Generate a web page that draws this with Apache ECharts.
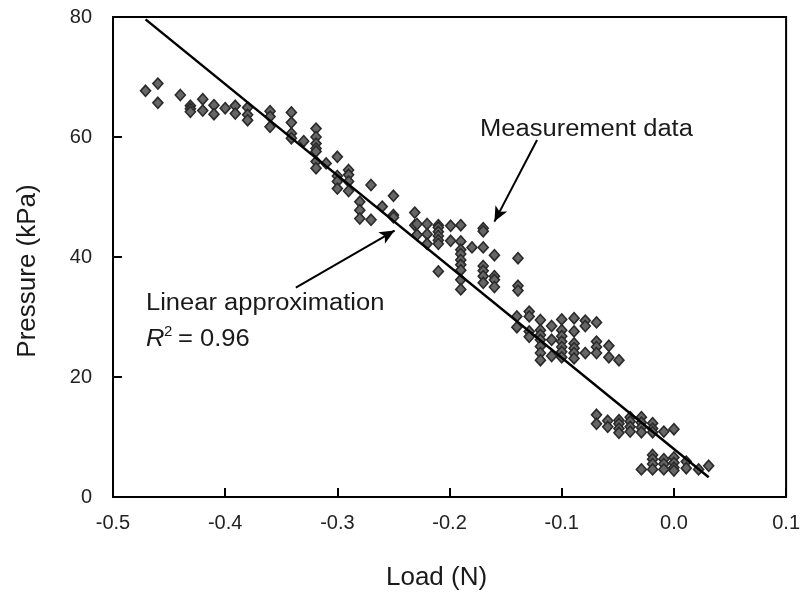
<!DOCTYPE html>
<html><head><meta charset="utf-8">
<script src="https://cdn.jsdelivr.net/npm/echarts@6/dist/echarts.min.js"></script>
<style>html,body{margin:0;padding:0;background:#fff}#c{width:803px;height:598px}</style>
</head><body><div id="c"></div>
<script>
const xTicks = [-0.5, -0.4, -0.3, -0.2, -0.1, 0.0, 0.1];
const yTicks = [0, 20, 40, 60, 80];
const measurementData = [
[-0.471,67.7],[-0.460,68.9],[-0.460,65.7],[-0.440,67.0],[-0.431,65.2],[-0.431,64.7],[-0.431,64.2],[-0.420,66.3],[-0.420,64.4],[-0.410,65.3],[-0.410,63.8],[-0.400,64.8],[-0.391,65.2],[-0.391,63.9],[-0.380,64.9],[-0.380,63.7],[-0.380,62.8],[-0.360,64.3],[-0.360,63.4],[-0.360,61.7],[-0.341,64.1],[-0.341,62.4],[-0.341,60.6],[-0.341,59.8],[-0.330,59.3],
[-0.319,61.4],[-0.319,60.0],[-0.319,58.9],[-0.319,58.1],[-0.319,57.6],[-0.319,55.9],[-0.319,54.8],[-0.310,55.6],[-0.300,56.7],[-0.300,53.5],[-0.300,52.6],[-0.300,51.4],[-0.290,54.5],[-0.290,53.7],[-0.290,52.6],[-0.290,51.0],[-0.270,52.0],[-0.280,49.2],[-0.280,47.8],[-0.280,46.4],[-0.270,46.2],[-0.260,48.4],[-0.250,50.2],[-0.250,47.0],[-0.250,46.6],[-0.231,47.4],[-0.231,45.3],
[-0.229,45.5],[-0.229,43.7],[-0.220,45.5],[-0.220,43.8],[-0.220,42.2],[-0.210,45.3],[-0.210,44.9],[-0.210,44.2],[-0.210,43.5],[-0.210,42.8],[-0.210,42.2],[-0.210,37.6],[-0.199,45.2],[-0.199,42.7],[-0.190,45.3],[-0.190,42.6],[-0.190,41.2],[-0.190,40.5],[-0.190,39.5],[-0.190,38.7],[-0.190,37.8],[-0.190,36.2],[-0.190,34.6],[-0.180,41.6],[-0.170,44.8],[-0.170,44.3],[-0.170,41.6],[-0.170,38.5],[-0.170,37.7],[-0.170,36.8],[-0.170,35.7],[-0.160,40.3],[-0.160,36.8],[-0.160,36.2],[-0.160,35.0],[-0.139,39.8],[-0.139,35.2],[-0.139,34.4],
[-0.140,30.1],[-0.140,28.3],[-0.129,30.9],[-0.129,30.1],[-0.129,27.6],[-0.129,26.7],[-0.119,29.5],[-0.119,27.8],[-0.119,27.0],[-0.119,26.2],[-0.119,25.1],[-0.119,24.0],[-0.119,22.8],[-0.109,28.5],[-0.109,26.2],[-0.109,23.5],[-0.100,29.6],[-0.100,27.8],[-0.100,26.8],[-0.100,25.9],[-0.100,25.0],[-0.100,24.2],[-0.100,23.3],[-0.089,29.8],[-0.089,27.6],[-0.089,25.6],[-0.089,24.8],[-0.089,24.0],[-0.089,23.1],[-0.079,29.4],[-0.079,28.5],[-0.079,24.0],[-0.069,29.1],[-0.069,25.9],[-0.069,25.0],[-0.069,24.0],[-0.058,25.2],[-0.058,23.3],[-0.049,22.8],
[-0.069,13.7],[-0.069,12.2],[-0.059,12.7],[-0.059,11.7],[-0.049,12.8],[-0.049,12.2],[-0.049,11.4],[-0.049,10.7],[-0.039,13.3],[-0.039,12.6],[-0.039,11.7],[-0.039,10.9],[-0.029,13.3],[-0.029,12.4],[-0.029,11.6],[-0.029,10.8],[-0.019,12.3],[-0.019,11.4],[-0.019,10.8],[-0.009,10.9],[0.000,11.3],
[-0.029,4.6],[-0.019,7.0],[-0.019,6.3],[-0.019,5.5],[-0.019,4.6],[-0.009,6.3],[-0.009,5.5],[-0.009,4.6],[0.000,6.6],[0.000,5.7],[0.000,4.9],[0.000,4.4],[0.011,5.9],[0.011,4.8],[0.022,4.6],[0.031,5.2]
];
const fitLine = [[-0.471, 79.6], [0.031, 3.3]];
const arrowLinear = [[-0.337, 34.9], [-0.249, 44.4]];
const arrowMeasure = [[-0.122, 59.5], [-0.160, 45.9]];
const labelMeasure = 'Measurement data';
const labelLinear = 'Linear approximation';
const labelR2 = '= 0.96';

const FONT = 'Liberation Sans, Arial, sans-serif';
const chart = echarts.init(document.getElementById('c'));
chart.setOption({
  animation: false,
  backgroundColor: '#fff',
  grid: { left: 113, right: 7, top: 17, bottom: 101, show: true, borderColor: '#000', borderWidth: 2, backgroundColor: 'transparent' },
  xAxis: {
    type: 'value', min: xTicks[0], max: xTicks[xTicks.length - 1], interval: 0.1,
    name: 'Load (N)', nameLocation: 'middle', nameGap: 68,
    nameTextStyle: { fontFamily: FONT, fontSize: 26, color: '#1a1a1a', padding: [0, 26, 0, 0] },
    axisLine: { show: true, onZero: false, lineStyle: { color: '#000', width: 2 } },
    axisTick: { show: true, inside: true, length: 9, lineStyle: { color: '#000', width: 2 } },
    splitLine: { show: false },
    axisLabel: { margin: 16, fontFamily: FONT, fontSize: 20, color: '#222', formatter: v => v.toFixed(1) }
  },
  yAxis: {
    type: 'value', min: yTicks[0], max: yTicks[yTicks.length - 1], interval: 20,
    name: 'Pressure (kPa)', nameLocation: 'middle', nameGap: 72, nameRotate: 90,
    nameTextStyle: { fontFamily: FONT, fontSize: 26, color: '#1a1a1a', padding: [0, 28, 0, 0] },
    axisLine: { show: true, onZero: false, lineStyle: { color: '#000', width: 2 } },
    axisTick: { show: true, inside: true, length: 9, lineStyle: { color: '#000', width: 2 } },
    splitLine: { show: false },
    axisLabel: { margin: 21, fontFamily: FONT, fontSize: 20, color: '#222' }
  },
  series: [
    {
      type: 'scatter', data: measurementData, symbol: 'diamond', symbolSize: [10, 11],
      itemStyle: { color: '#666', borderColor: '#2a2a2a', borderWidth: 1.6, opacity: 1 }
    },
    {
      type: 'line', data: fitLine, symbol: 'none', lineStyle: { color: '#000', width: 2.5 },
      markLine: {
        silent: true, symbol: ['none', 'arrow'], symbolSize: [10, 15],
        label: { show: false },
        lineStyle: { color: '#000', width: 2, type: 'solid' },
        data: [
          [{ coord: arrowLinear[0] }, { coord: arrowLinear[1] }],
          [{ coord: arrowMeasure[0] }, { coord: arrowMeasure[1] }]
        ]
      }
    }
  ],
  graphic: [
    { type: 'text', x: 480, y: 118, scaleX: 1.11, style: { text: labelMeasure, fontFamily: FONT, fontSize: 23, fill: '#1a1a1a' } },
    { type: 'text', x: 146, y: 292, scaleX: 1.11, style: { text: labelLinear, fontFamily: FONT, fontSize: 23, fill: '#1a1a1a' } },
    { type: 'text', x: 146, y: 328, scaleX: 1.11, style: { text: 'R', fontFamily: FONT, fontSize: 23, fontStyle: 'italic', fill: '#1a1a1a' } },
    { type: 'text', x: 164, y: 324, style: { text: '2', fontFamily: FONT, fontSize: 15, fill: '#1a1a1a' } },
    { type: 'text', x: 178, y: 328, scaleX: 1.11, style: { text: labelR2, fontFamily: FONT, fontSize: 23, fill: '#1a1a1a' } }
  ]
});
</script></body></html>
